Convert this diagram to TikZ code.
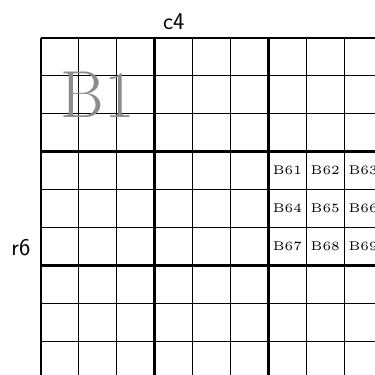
\documentclass[tikz,border=0pt]{standalone}
\begin{document}
\begin{tikzpicture}[x=1cm,y=-1cm,
  thinline/.style={line width=0.65pt},
  thickline/.style={line width=2pt},
  lbl/.style={font=\fontsize{18}{22}\selectfont\sffamily},
  small/.style={font=\fontsize{5}{6}\selectfont, inner sep=0pt},
  big/.style={font=\fontsize{50}{60}\selectfont, text=black!45}]
\useasboundingbox (-1.082,-1.003) rectangle (8.813,8.866);
\clip (-1.082,-1.003) rectangle (8.813,8.866);
\foreach \i in {1,2,4,5,7,8} {
  \draw[thinline] (\i,0) -- (\i,9);
  \draw[thinline] (0,\i) -- (9,\i);
}
\foreach \i in {0,3,6,9} {
  \draw[thickline] (\i,0) -- (\i,9);
  \draw[thickline] (0,\i) -- (9,\i);
}
\node[lbl] (c4) at (3.5,-0.42) {c4};
\node[lbl] (r6) at (-0.53,5.52) {r6};
\node[big] (B1) at (1.5,1.5) {B1};
\foreach \r in {0,1,2} {
  \foreach \c in {0,1,2} {
    \pgfmathtruncatemacro{\k}{3*\r+\c+1}
    \node[small] (B6\k) at (6.5+\c,3.5+\r) {\scalebox{1.9}{B6\k}};
  }
}
\end{tikzpicture}
\end{document}
